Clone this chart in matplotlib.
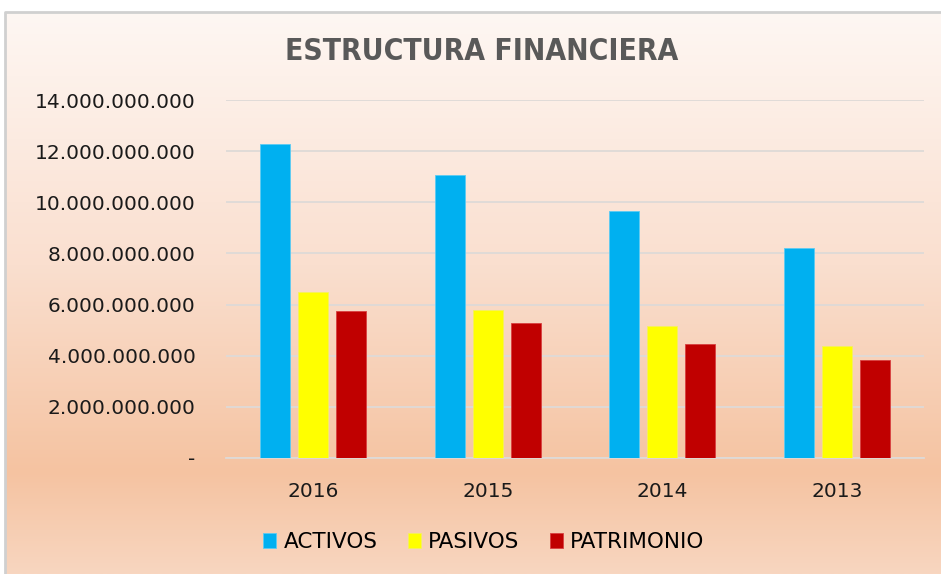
import numpy as np
import matplotlib
matplotlib.use('Agg')
import matplotlib.pyplot as plt
from matplotlib.colors import LinearSegmentedColormap
from matplotlib.ticker import FuncFormatter, MultipleLocator

plt.rcParams['font.family'] = ['DejaVu Sans']

years = ["2016", "2015", "2014", "2013"]
activos = [12.26e9, 11.08e9, 9.65e9, 8.20e9]
pasivos = [6.48e9, 5.80e9, 5.16e9, 4.39e9]
patrimonio = [5.75e9, 5.27e9, 4.47e9, 3.82e9]
series_names = ["ACTIVOS", "PASIVOS", "PATRIMONIO"]
series_colors = ["#00B0F0", "#FFFF00", "#C00000"]
edge_colors = ["#5CCBF3", "#F5F060", "#D84040"]

W, H = 941, 574
fig = plt.figure(figsize=(W / 100, H / 100), dpi=100)
fig.patch.set_facecolor("white")

# gradient background of the chart area
bg = fig.add_axes([5 / W, 0, 1 - 5 / W, 1 - 12 / H])
bg.set_axis_off()
cmap = LinearSegmentedColormap.from_list(
    "bg", [(0.0, "#FEF7F3"), (0.45, "#FADFCF"), (0.82, "#F5C3A1"), (1.0, "#F8D6C0")])
grad = np.linspace(0, 1, 256).reshape(-1, 1)
bg.imshow(grad, aspect="auto", cmap=cmap, extent=[0, 1, 0, 1], origin="upper")
bg.set_xlim(0, 1)
bg.set_ylim(0, 1)
bg.plot([0, 0, 1], [0, 1, 1], color="#D0D0D0", linewidth=2,
        transform=bg.transAxes, clip_on=False)

ax = fig.add_axes([226 / W, 1 - 458 / H, (924 - 226) / W, (458 - 100) / H])
ax.patch.set_alpha(0)

x = np.arange(len(years))
width = 0.172
offset = 0.218
for i, (vals, name, col, ec) in enumerate(zip([activos, pasivos, patrimonio],
                                             series_names, series_colors, edge_colors)):
    ax.bar(x + (i - 1) * offset, vals, width, color=col, label=name,
           edgecolor=ec, linewidth=0.6, zorder=3)

ax.set_xlim(-0.5, len(years) - 0.5)
ax.set_ylim(0, 14e9)
ax.yaxis.set_major_locator(MultipleLocator(2e9))


def fmt(v, pos):
    if abs(v) < 1:
        return "-"
    return f"{v:,.0f}".replace(",", ".")


ax.yaxis.set_major_formatter(FuncFormatter(fmt))
ax.set_xticks(x)
ax.set_xticklabels(years)
ax.tick_params(axis="y", length=0, pad=22, labelsize=14.5, labelcolor="#1a1a1a")
ax.tick_params(axis="x", length=0, pad=17, labelsize=14.5, labelcolor="#1a1a1a")
ax.grid(True, axis="y", color="#DEDAD7", linewidth=1.3, zorder=0)
for s in ["top", "right", "left"]:
    ax.spines[s].set_visible(False)
ax.spines["bottom"].set_color("#DEDAD7")
ax.spines["bottom"].set_linewidth(1.3)

fig.text(482 / W, 1 - 51 / H, "ESTRUCTURA FINANCIERA", ha="center", va="center",
         fontsize=21.5, fontweight="bold", fontstretch="condensed", color="#595959",
         family=["DejaVu Sans"])

fig.legend(loc="center", bbox_to_anchor=(484 / W, 1 - 542 / H), ncol=3,
           frameon=False, fontsize=15.5, handlelength=0.6, handleheight=0.75,
           handletextpad=0.35, columnspacing=1.4)

fig.savefig("out.png", dpi=100)
